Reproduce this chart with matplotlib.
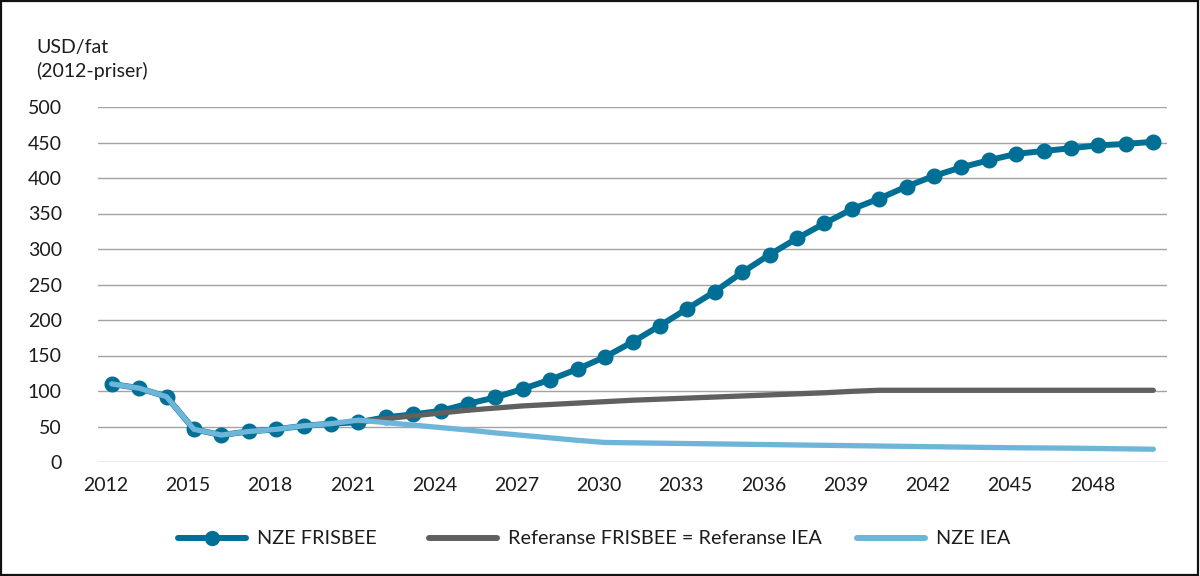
import matplotlib
matplotlib.use("Agg")
import matplotlib.pyplot as plt
from matplotlib.patches import Rectangle
from matplotlib.lines import Line2D
from matplotlib.transforms import ScaledTranslation

# ---------------- data ----------------
years = list(range(2012, 2051))

nze_frisbee = [110, 104, 92, 46, 38, 43, 46, 51, 54, 56, 63, 67, 72, 82, 91, 103,
               116, 131, 148, 169, 192, 216, 240, 267, 292, 315, 336, 356, 371,
               388, 403, 415, 425, 434, 438, 442, 446, 448, 451]

ref_years = list(range(2021, 2051))
referanse = [57, 61, 65, 69, 73, 76, 79, 81, 83, 85, 87, 88.5, 90, 91.5, 93, 94.5,
             96, 97.5, 99.5, 101, 101, 101, 101, 101, 101, 101, 101, 101, 101, 101]

nze_iea = [110, 104, 92, 46, 38, 43, 46, 51, 54, 59, 55.5, 52, 48.5, 45, 41, 37.5,
           34, 30.5, 27.5, 27, 26.5, 26, 25.5, 25, 24.5, 24, 23.5, 23, 22.5, 22,
           21.5, 21, 20.5, 20, 19.8, 19.5, 19, 18.5, 18]

xtick_years = list(range(2012, 2050, 3))
yticks = list(range(0, 501, 50))

series_labels = ["NZE FRISBEE", "Referanse FRISBEE = Referanse IEA", "NZE IEA"]
ylabel_lines = ["USD/fat", "(2012-priser)"]

# ---------------- style ----------------
C_BLUE = "#006F96"
C_GRAY = "#606060"
C_LIGHT = "#6DB6D9"
C_TEXT = "#1E1B1C"
C_GRID = "#A3A3A3"

plt.rcParams['font.family'] = ['Lato', 'DejaVu Sans']

fig = plt.figure(figsize=(12, 5.76), dpi=100)
ax = fig.add_axes([98 / 1200, 1 - 462 / 576, (1167 - 98) / 1200, (462 - 107) / 576])

ax.plot(years, nze_frisbee, color=C_BLUE, lw=4.3, marker='o', markersize=10.5,
        solid_capstyle='round', zorder=3)
ax.plot(ref_years, referanse, color=C_GRAY, lw=3.8, solid_capstyle='round', zorder=4)
ax.plot(years, nze_iea, color=C_LIGHT, lw=3.8, solid_capstyle='round', zorder=5)

ax.set_xlim(2011.5, 2050.5)
ax.set_ylim(0, 500)
ax.set_yticks(yticks)
ax.set_xticks(xtick_years)
ax.yaxis.grid(True, color=C_GRID, lw=1.0)
ax.set_axisbelow(True)
for s in ax.spines.values():
    s.set_visible(False)
ax.tick_params(axis='both', length=0, labelsize=14, colors=C_TEXT)
ax.tick_params(axis='y', pad=26)
ax.tick_params(axis='x', pad=11)
offset = ScaledTranslation(-6 / 100, 0, fig.dpi_scale_trans)
for lab in ax.get_xticklabels():
    lab.set_transform(lab.get_transform() + offset)

fig.text(36 / 1200, 1 - 47 / 576, ylabel_lines[0], fontsize=14, color=C_TEXT,
         ha='left', va='center')
fig.text(36 / 1200, 1 - 71 / 576, ylabel_lines[1], fontsize=14, color=C_TEXT,
         ha='left', va='center')

# legend (three single-entry legends to mimic spacing)
leg_font = {'family': ['Liberation Sans Narrow', 'Lato', 'DejaVu Sans'], 'size': 14.3}
handles = [
    Line2D([], [], color=C_BLUE, lw=4.3, marker='o', markersize=10, solid_capstyle='round'),
    Line2D([], [], color=C_GRAY, lw=4.3, solid_capstyle='round'),
    Line2D([], [], color=C_LIGHT, lw=4.3, solid_capstyle='round'),
]
anchors = [178, 429, 857]
for h, lab, xa in zip(handles, series_labels, anchors):
    lg = fig.legend([h], [lab], loc='center left',
                    bbox_to_anchor=(xa / 1200, 1 - 539 / 576), frameon=False,
                    prop=leg_font, handlelength=3.4, handletextpad=0.6,
                    borderpad=0, borderaxespad=0)
    for t in lg.get_texts():
        t.set_color(C_TEXT)

# frame around the figure
fig.add_artist(Rectangle((0.001, 0.002), 0.997, 0.996, transform=fig.transFigure,
                         fill=False, edgecolor='#111111', lw=1.6))

fig.savefig("out.png", dpi=100)
